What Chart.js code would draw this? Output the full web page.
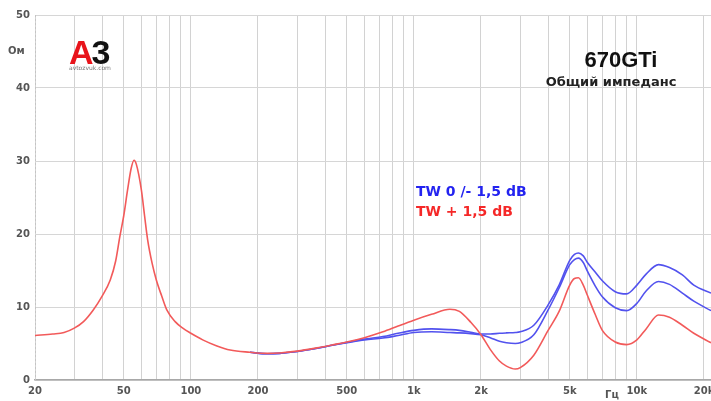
<!DOCTYPE html>
<html>
<head>
<meta charset="utf-8">
<script src="https://cdn.jsdelivr.net/npm/chart.js@4.4.1/dist/chart.umd.min.js"></script>
<style>
  html, body { margin: 0; padding: 0; background: #fff; }
  #wrap { position: relative; width: 711px; height: 401px; overflow: hidden; }
  canvas { position: absolute; left: 0; top: 0; }
  .t { position: absolute; white-space: nowrap; line-height: 1; }
</style>
</head>
<body>
<div id="wrap">
  <canvas id="c" width="711" height="401"></canvas>
  <div class="t" style="left:8px;top:45px;font:bold 10px 'DejaVu Sans';color:#555;">Ом</div>
  <div class="t" style="left:69px;top:33px;font:bold 34px 'Liberation Sans';letter-spacing:-2px;"><span style="color:#e8141b">A</span><span style="color:#111">3</span></div>
  <div class="t" style="left:69px;top:64px;font:6px 'DejaVu Sans';color:#777;">avtozvuk.com</div>
  <div class="t" style="left:560px;top:47px;width:122px;text-align:center;font:bold 22px 'Liberation Sans';color:#111;">670GTi</div>
  <div class="t" style="left:540px;top:74px;width:142px;text-align:center;font:bold 13px 'DejaVu Sans';color:#222;">Общий импеданс</div>
  <div class="t" style="left:416px;top:183px;font:bold 14px 'DejaVu Sans';color:#2323f0;">TW 0 /- 1,5 dB</div>
  <div class="t" style="left:416px;top:203px;font:bold 14px 'DejaVu Sans';color:#f52828;">TW + 1,5 dB</div>
  <div class="t" style="left:600px;top:389px;width:24px;text-align:center;font:bold 10px 'DejaVu Sans';color:#555;">Гц</div>
</div>
<script>
// ---- data ----
const freqs = [20,24,27,30,33,36.5,40,43.5,46,48,50,52,54,55.6,57,60,62,64,67,70,74,78,85,92,100,113,130,150,184,220,250,300,368,430,500,600,727,850,1000,1200,1450,1600,1800,2000,2200,2420,2600,2850,3000,3450,4000,4480,5000,5250,5470,5750,6000,6500,7000,8000,9000,10000,11000,12500,14000,16000,18000,21500];

const twPlus = [6.1,6.3,6.5,7.1,8.0,9.6,11.5,13.7,16.3,19.6,22.5,26,29,30.1,29.5,26,22.5,19.2,16,13.7,11.5,9.6,8.0,7.1,6.4,5.5,4.7,4.1,3.8,3.65,3.7,3.95,4.4,4.8,5.2,5.8,6.6,7.4,8.2,9.0,9.7,9.4,7.9,6.2,4.2,2.6,1.9,1.5,1.7,3.4,6.8,9.4,13.0,13.9,14.0,13.0,11.6,9.0,6.8,5.2,4.85,5.5,7.0,8.9,8.6,7.5,6.4,5.1];

// blue curves coincide with (and are hidden under) the red one below ~180 Hz
const twZero = [null,null,null,null,null,null,null,null,null,null,null,null,null,null,null,null,null,null,null,null,null,null,null,null,null,null,null,null,3.8,3.6,3.65,3.9,4.35,4.75,5.15,5.6,5.95,6.4,6.8,7.0,6.9,6.8,6.55,6.3,6.3,6.4,6.45,6.5,6.6,7.5,10.3,13.0,16.4,17.2,17.4,17.0,16.1,14.8,13.6,12.1,11.8,13.0,14.5,15.8,15.4,14.4,13.0,11.9];

const twMinus = [null,null,null,null,null,null,null,null,null,null,null,null,null,null,null,null,null,null,null,null,null,null,null,null,null,null,null,null,3.8,3.6,3.65,3.9,4.35,4.75,5.1,5.5,5.75,6.1,6.5,6.6,6.5,6.45,6.35,6.2,5.8,5.3,5.1,5.0,5.1,6.2,9.6,12.6,15.8,16.5,16.7,16.1,14.9,12.9,11.4,9.9,9.5,10.5,12.2,13.5,13.1,11.9,10.8,9.5];

const gridFreqs = [20,30,40,50,60,70,80,90,100,200,300,400,500,600,700,800,900,1000,2000,3000,4000,5000,6000,7000,8000,9000,10000,20000];
const labeledFreqs = [20,50,100,200,500,1000,2000,5000,10000,20000];
const labeledText = ['20','50','100','200','500','1k','2k','5k','10k','20k'];
const yTicks = [0,10,20,30,40,50];

// ---- chart ----
const toPts = (vals) => freqs.map((f, i) => ({ x: f, y: vals[i] }));
const labelFor = (v) => {
  const i = labeledFreqs.findIndex(f => Math.abs(f - v) < 1e-6);
  return i >= 0 ? labeledText[i] : '';
};

const dashedLeftAxis = {
  id: 'dashedLeftAxis',
  beforeDatasetsDraw(chart) {
    const { ctx, chartArea } = chart;
    ctx.save();
    ctx.strokeStyle = '#c4c4c4';
    ctx.lineWidth = 1;
    ctx.setLineDash([2, 2]);
    ctx.beginPath();
    ctx.moveTo(chartArea.left + 0.5, chartArea.top);
    ctx.lineTo(chartArea.left + 0.5, chartArea.bottom);
    ctx.stroke();
    ctx.restore();
  }
};

const lineStyle = { pointRadius: 0, borderWidth: 1.6, cubicInterpolationMode: 'monotone', fill: false, spanGaps: false };

new Chart(document.getElementById('c'), {
  type: 'line',
  data: {
    datasets: [
      Object.assign({ data: toPts(twPlus), borderColor: '#f25a5a', order: 0 }, lineStyle),
      Object.assign({ data: toPts(twZero), borderColor: '#5252ee', order: 1 }, lineStyle),
      Object.assign({ data: toPts(twMinus), borderColor: '#5252ee', order: 2 }, lineStyle)
    ]
  },
  options: {
    responsive: false,
    animation: false,
    events: [],
    layout: { padding: { top: 15, right: 0, left: 0, bottom: 0 } },
    plugins: { legend: { display: false }, tooltip: { enabled: false }, title: { display: false } },
    scales: {
      x: {
        type: 'logarithmic',
        min: 20,
        max: 21500,
        afterBuildTicks: (scale) => { scale.ticks = gridFreqs.map(v => ({ value: v })); },
        afterFit: (scale) => { scale.height = 21; scale.paddingLeft = 0; scale.paddingRight = 0; },
        ticks: {
          autoSkip: false, maxRotation: 0, minRotation: 0, padding: 5,
          color: '#555', font: { family: 'DejaVu Sans', size: 10, weight: 'bold' },
          callback: (v) => labelFor(v)
        },
        grid: { color: '#d2d2d2', lineWidth: 1, drawTicks: false },
        border: { display: true, color: '#a8a8a8', width: 1.5 }
      },
      y: {
        type: 'linear',
        min: 0,
        max: 50,
        afterBuildTicks: (scale) => { scale.ticks = yTicks.map(v => ({ value: v })); },
        afterFit: (scale) => { scale.width = 35; },
        ticks: {
          padding: 5, color: '#555', font: { family: 'DejaVu Sans', size: 10, weight: 'bold' }
        },
        grid: { color: '#d6d6d6', lineWidth: 1, drawTicks: false },
        border: { display: false }
      }
    }
  },
  plugins: [dashedLeftAxis]
});
</script>
</body>
</html>
